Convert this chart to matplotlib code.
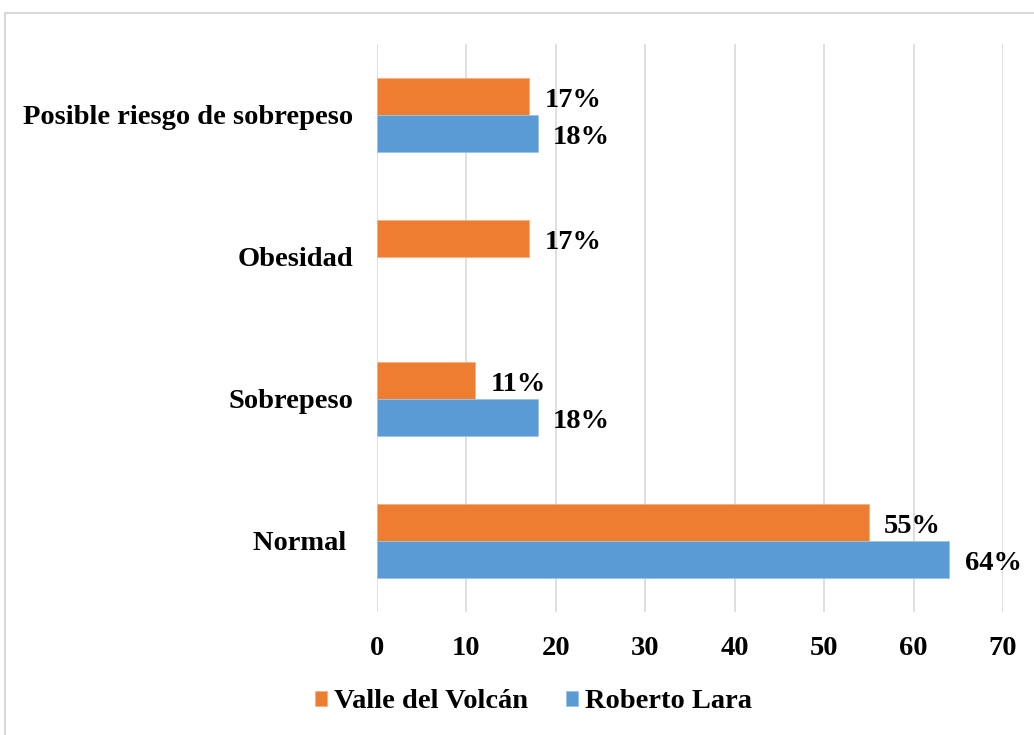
import numpy as np
import matplotlib.pyplot as plt
from matplotlib.patches import Rectangle

categories = ["Normal ", "Sobrepeso", "Obesidad", "Posible riesgo de sobrepeso"]
valle = [55, 11, 17, 17]
roberto = [64, 18, np.nan, 18]
series_names = ["Valle del Volcán", "Roberto Lara"]

plt.rcParams['font.family'] = ['Liberation Serif', 'DejaVu Serif']
plt.rcParams['font.weight'] = 'bold'
fs = 20.5

fig = plt.figure(figsize=(10.34, 7.35), dpi=100)
ax = fig.add_axes([377/1034, 1-612/735, (1003-377)/1034, (612-44)/735])

# outer frame like the exported chart area
fig.patches.append(Rectangle((5/1034, -0.1), 1.2, 1.1-13/735, transform=fig.transFigure,
                             fill=False, edgecolor="#d9d9d9", linewidth=1.5, zorder=0))

y = np.arange(len(categories))
h = 0.26
b1 = ax.barh(y + h/2, valle, height=h, color="#ED7D31", edgecolor="#f4b183", linewidth=0.6,
             label=series_names[0], zorder=3)
b2 = ax.barh(y - h/2, roberto, height=h, color="#5B9BD5", edgecolor="#9dc3e6", linewidth=0.6,
             label=series_names[1], zorder=3)

for bars, vals in ((b1, valle), (b2, roberto)):
    for bar, v in zip(bars, vals):
        if np.isnan(v):
            continue
        ax.annotate(f"{v:g}%", (v, bar.get_y() + bar.get_height()/2), xytext=(11, -3),
                    textcoords="offset points", va="center", ha="left",
                    fontsize=fs, fontweight="bold")

ax.set_xlim(0, 70)
ax.set_ylim(-0.5, 3.5)
ax.set_xticks(range(0, 71, 10))
ax.set_yticks(y)
ax.set_yticklabels(categories)
ax.tick_params(axis="both", length=0, labelsize=fs)
ax.tick_params(axis="y", pad=17)
ax.tick_params(axis="x", pad=17)
for lab in ax.get_xticklabels() + ax.get_yticklabels():
    lab.set_fontweight("bold")
ax.grid(axis="x", color="#d9d9d9", linewidth=1.2, zorder=0)
ax.set_axisbelow(True)
for s in ax.spines.values():
    s.set_visible(False)

fig.legend(handles=[b1, b2], labels=series_names, loc="center", ncol=2,
           bbox_to_anchor=(0.516, 1-702/735), frameon=False,
           handlelength=0.42, handleheight=0.42, handletextpad=0.25, columnspacing=1.33,
           prop={"weight": "bold", "size": fs})

fig.savefig("out.png", dpi=100)
